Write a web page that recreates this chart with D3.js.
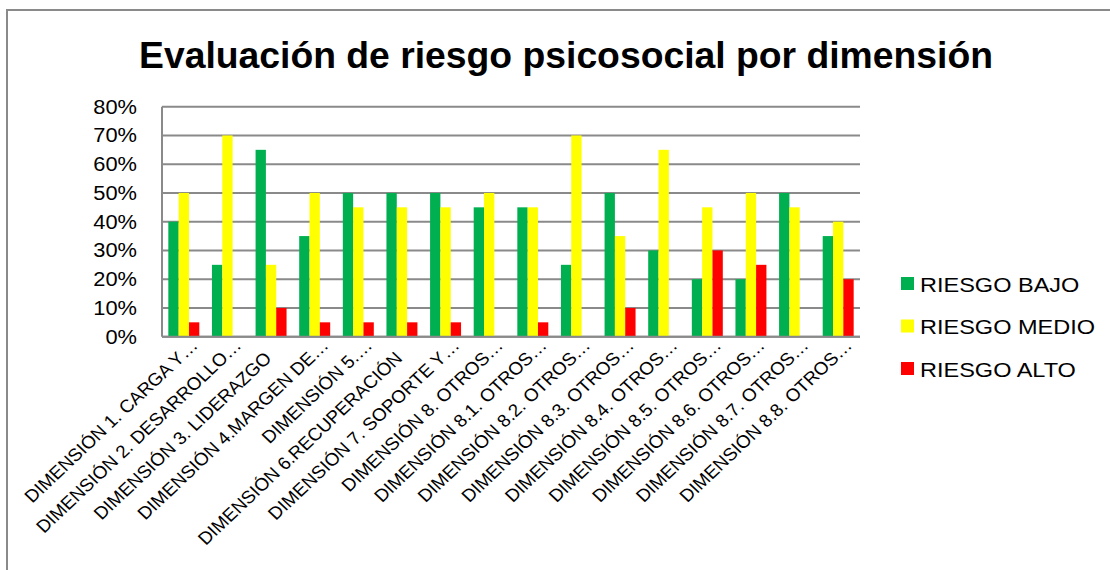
<!DOCTYPE html>
<html>
<head>
<meta charset="utf-8">
<script src="https://cdn.jsdelivr.net/npm/d3@7"></script>
<style>
  html, body { margin: 0; padding: 0; background: #fff; }
  svg { display: block; }
  text { font-family: "Liberation Sans", Arial, sans-serif; fill: #000; }
</style>
</head>
<body>
<svg id="chart" width="1110" height="570"></svg>
<script>
// Category labels along the x axis
const categories = [
  "DIMENSIÓN 1. CARGA Y…",
  "DIMENSIÓN 2. DESARROLLO…",
  "DIMENSIÓN 3. LIDERAZGO",
  "DIMENSIÓN 4.MARGEN DE…",
  "DIMENSIÓN 5.…",
  "DIMENSIÓN 6.RECUPERACIÓN",
  "DIMENSIÓN 7. SOPORTE Y…",
  "DIMENSIÓN 8. OTROS…",
  "DIMENSIÓN 8.1. OTROS…",
  "DIMENSIÓN 8.2. OTROS…",
  "DIMENSIÓN 8.3. OTROS…",
  "DIMENSIÓN 8.4. OTROS…",
  "DIMENSIÓN 8.5. OTROS…",
  "DIMENSIÓN 8.6. OTROS…",
  "DIMENSIÓN 8.7. OTROS…",
  "DIMENSIÓN 8.8. OTROS…"
];

// Share of respondents per risk level (fractions)
const riesgoBajo  = [0.40, 0.25, 0.65, 0.35, 0.50, 0.50, 0.50, 0.45, 0.45, 0.25, 0.50, 0.30, 0.20, 0.20, 0.50, 0.35];
const riesgoMedio = [0.50, 0.70, 0.25, 0.50, 0.45, 0.45, 0.45, 0.50, 0.45, 0.70, 0.35, 0.65, 0.45, 0.50, 0.45, 0.40];
const riesgoAlto  = [0.05, 0.00, 0.10, 0.05, 0.05, 0.05, 0.05, 0.00, 0.05, 0.00, 0.10, 0.00, 0.30, 0.25, 0.00, 0.20];

const seriesNames  = ["RIESGO BAJO", "RIESGO MEDIO", "RIESGO ALTO"];
const seriesColors = ["#00B050", "#FFFF00", "#FF0000"];
const yTicks = [0, 0.1, 0.2, 0.3, 0.4, 0.5, 0.6, 0.7, 0.8];

const title = "Evaluación de riesgo psicosocial por dimensión";

const series = [riesgoBajo, riesgoMedio, riesgoAlto];

const svg = d3.select("#chart");
const gridColor = "#8a8a8a";
const textStretch = 1.12;   // axis/legend text is drawn slightly wide
const labelStretch = 1.06;

// Outer chart frame (continues past the right and bottom edges)
svg.append("rect")
  .attr("x", 7).attr("y", 10)
  .attr("width", 1200).attr("height", 700)
  .attr("fill", "none")
  .attr("stroke", gridColor)
  .attr("stroke-width", 2);

// Title
svg.append("text")
  .attr("x", 566).attr("y", 67.5)
  .attr("text-anchor", "middle")
  .style("font-size", "37.3px")
  .style("font-weight", "bold")
  .text(title);

// Plot area
const plot = { left: 162, right: 860, top: 106.7, bottom: 336.7 };

const x0 = d3.scaleBand()
  .domain(categories)
  .range([plot.left, plot.right])
  .paddingInner(0.29)
  .paddingOuter(0.145);

const x1 = d3.scaleBand()
  .domain(d3.range(series.length))
  .range([0, x0.bandwidth()]);

const y = d3.scaleLinear()
  .domain([0, 0.8])
  .range([plot.bottom, plot.top]);

// Horizontal gridlines
svg.append("g")
  .selectAll("line")
  .data(yTicks)
  .join("line")
  .attr("x1", plot.left).attr("x2", plot.right)
  .attr("y1", d => y(d)).attr("y2", d => y(d))
  .attr("stroke", gridColor)
  .attr("stroke-width", 2);

// Vertical value axis line
svg.append("line")
  .attr("x1", plot.left).attr("x2", plot.left)
  .attr("y1", plot.top).attr("y2", plot.bottom)
  .attr("stroke", gridColor)
  .attr("stroke-width", 2);

// Y tick labels
const fmt = d3.format(".0%");
svg.append("g")
  .selectAll("g")
  .data(yTicks)
  .join("g")
  .attr("transform", d => `translate(137,${y(d)}) scale(${textStretch},1)`)
  .append("text")
  .attr("text-anchor", "end")
  .attr("dy", "0.35em")
  .style("font-size", "19.5px")
  .text(d => fmt(d));

// Bars
const barRows = categories.map((c, i) => ({ c, values: series.map(s => s[i]) }));
svg.append("g")
  .selectAll("g")
  .data(barRows)
  .join("g")
  .attr("transform", d => `translate(${x0(d.c)},0)`)
  .selectAll("rect")
  .data(d => d.values.map((v, k) => ({ v, k })))
  .join("rect")
  .attr("x", d => x1(d.k))
  .attr("width", x1.bandwidth())
  .attr("y", d => y(d.v))
  .attr("height", d => y(0) - y(d.v))
  .attr("fill", d => seriesColors[d.k]);

// Bottom category axis line
svg.append("line")
  .attr("x1", plot.left).attr("x2", plot.right)
  .attr("y1", plot.bottom).attr("y2", plot.bottom)
  .attr("stroke", gridColor)
  .attr("stroke-width", 2);

// Rotated category labels; untruncated labels sit a little further down the slant
svg.append("g")
  .selectAll("g")
  .data(categories)
  .join("g")
  .attr("transform", d => `translate(${x0(d) + x0.bandwidth() / 2 + 15},${plot.bottom + 10}) scale(${labelStretch},1) rotate(-45)`)
  .append("text")
  .attr("text-anchor", "end")
  .attr("x", d => d.endsWith("…") ? 0 : -18)
  .style("font-size", "17.8px")
  .text(d => d);

// Legend
const legend = svg.append("g")
  .selectAll("g")
  .data(seriesNames)
  .join("g")
  .attr("transform", (d, i) => `translate(901,${284 + i * 42.5})`);

legend.append("rect")
  .attr("x", 0).attr("y", -7)
  .attr("width", 13).attr("height", 13)
  .attr("fill", (d, i) => seriesColors[i]);

legend.append("g")
  .attr("transform", `translate(19,0) scale(${textStretch},1)`)
  .append("text")
  .attr("dy", "0.36em")
  .style("font-size", "21px")
  .text(d => d);
</script>
</body>
</html>
